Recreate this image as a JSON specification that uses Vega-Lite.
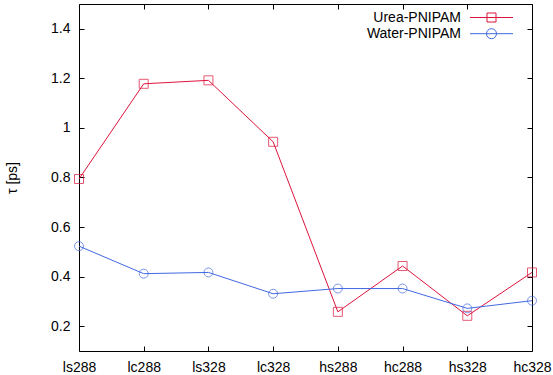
{
  "$schema": "https://vega.github.io/schema/vega-lite/v6.json",
  "width": 453,
  "height": 347,
  "autosize": "none",
  "padding": {"left": 79, "top": 4, "right": 21, "bottom": 24},
  "config": {
    "view": {"stroke": "black", "strokeWidth": 1},
    "font": "Liberation Sans",
    "axis": {"grid": false, "domain": false, "tickColor": "black", "tickWidth": 1, "tickSize": -5, "labelFont": "Liberation Sans", "labelFontSize": 14, "labelColor": "black", "titleFont": "Liberation Sans", "titleFontSize": 14, "titleFontWeight": "normal", "titleColor": "black"}
  },
  "data": {
    "values": [
      {"cat": "ls288", "series": "Urea-PNIPAM", "tau": 0.794},
      {"cat": "lc288", "series": "Urea-PNIPAM", "tau": 1.178},
      {"cat": "ls328", "series": "Urea-PNIPAM", "tau": 1.192},
      {"cat": "lc328", "series": "Urea-PNIPAM", "tau": 0.944},
      {"cat": "hs288", "series": "Urea-PNIPAM", "tau": 0.258},
      {"cat": "hc288", "series": "Urea-PNIPAM", "tau": 0.443},
      {"cat": "hs328", "series": "Urea-PNIPAM", "tau": 0.242},
      {"cat": "hc328", "series": "Urea-PNIPAM", "tau": 0.417},
      {"cat": "ls288", "series": "Water-PNIPAM", "tau": 0.523},
      {"cat": "lc288", "series": "Water-PNIPAM", "tau": 0.412},
      {"cat": "ls328", "series": "Water-PNIPAM", "tau": 0.417},
      {"cat": "lc328", "series": "Water-PNIPAM", "tau": 0.331},
      {"cat": "hs288", "series": "Water-PNIPAM", "tau": 0.352},
      {"cat": "hc288", "series": "Water-PNIPAM", "tau": 0.352},
      {"cat": "hs328", "series": "Water-PNIPAM", "tau": 0.272},
      {"cat": "hc328", "series": "Water-PNIPAM", "tau": 0.303}
    ]
  },
  "layer": [
    {
      "mark": {"type": "line", "strokeWidth": 1},
      "encoding": {
        "x": {"field": "cat", "type": "ordinal", "sort": null, "scale": {"type": "point", "padding": 0},
              "axis": {"orient": "bottom", "title": null, "labelAngle": 0, "labelPadding": 14}},
        "y": {"field": "tau", "type": "quantitative", "scale": {"domain": [0.1, 1.5], "nice": false, "zero": false},
              "axis": {"orient": "left", "title": "τ [ps]", "values": [0.2, 0.4, 0.6, 0.8, 1, 1.2, 1.4], "format": "~g", "labelPadding": 14, "titleX": -60}},
        "color": {"field": "series", "type": "nominal", "sort": null,
                  "scale": {"domain": ["Urea-PNIPAM", "Water-PNIPAM"], "range": ["#dc143c", "#4169e1"]},
                  "legend": {"orient": "none", "legendX": 382, "legendY": 6.5, "title": null, "padding": 0, "offset": 0,
                             "labelFont": "Liberation Sans", "labelFontSize": 14, "labelColor": "black",
                             "symbolSize": 100, "symbolStrokeWidth": 1, "rowPadding": 2.2,
                             "encode": {
                               "symbols": {"update": {
                                 "shape": {"signal": "datum.value === 'Urea-PNIPAM' ? 'M-4.3,0H4.3M-0.9,-0.9H0.9V0.9H-0.9Z' : 'M-4.3,0H4.3M-1,0A1,1 0 1,0 1,0A1,1 0 1,0 -1,0'"},
                                 "x": {"value": 30.5},
                                 "fill": {"value": "transparent"}
                               }},
                               "labels": {"update": {"x": {"value": 0}, "align": {"value": "right"}}}
                             }}}
      }
    },
    {
      "transform": [{"filter": "datum.series === 'Urea-PNIPAM'"}],
      "mark": {"type": "point", "filled": false, "strokeWidth": 1, "shape": "square", "size": 81, "color": "#dc143c"},
      "encoding": {
        "x": {"field": "cat", "type": "ordinal", "sort": null, "axis": null},
        "y": {"field": "tau", "type": "quantitative", "axis": null}
      }
    },
    {
      "transform": [{"filter": "datum.series === 'Water-PNIPAM'"}],
      "mark": {"type": "point", "filled": false, "strokeWidth": 1, "shape": "circle", "size": 80, "color": "#4169e1"},
      "encoding": {
        "x": {"field": "cat", "type": "ordinal", "sort": null, "axis": null},
        "y": {"field": "tau", "type": "quantitative", "axis": null}
      }
    },
    {
      "mark": {"type": "point", "opacity": 0},
      "encoding": {
        "x": {"field": "cat", "type": "ordinal", "sort": null, "axis": {"orient": "top", "labels": false, "title": null}},
        "y": {"field": "tau", "type": "quantitative", "axis": {"orient": "right", "labels": false, "title": null, "values": [0.2, 0.4, 0.6, 0.8, 1, 1.2, 1.4]}}
      }
    }
  ],
  "resolve": {"axis": {"x": "independent", "y": "independent"}}
}
